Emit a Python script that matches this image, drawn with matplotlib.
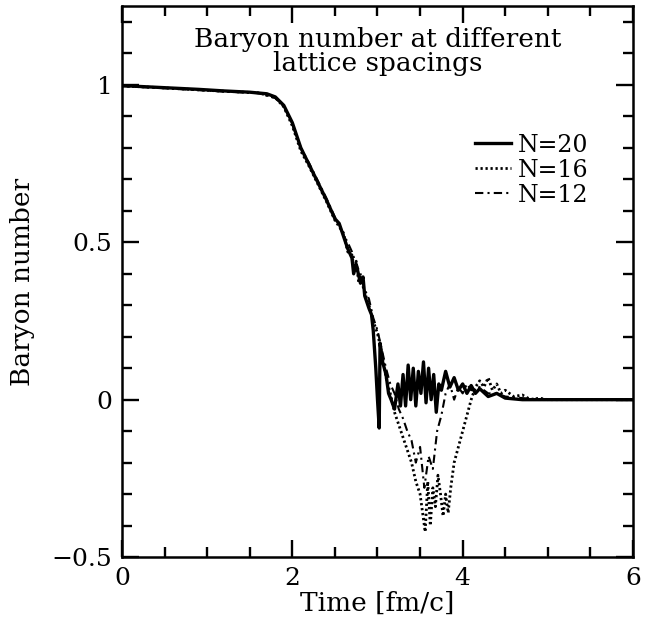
import matplotlib
matplotlib.use("Agg")
import matplotlib.pyplot as plt
from matplotlib.ticker import MultipleLocator

# time [fm/c] and baryon number
t20 = [0.0, 0.3, 0.6, 0.9, 1.2, 1.5, 1.7, 1.8, 1.9, 2.0, 2.05, 2.1, 2.2, 2.3, 2.4,
       2.5, 2.55, 2.6, 2.65, 2.7, 2.72, 2.75, 2.8, 2.83, 2.85, 2.9, 2.93, 2.95, 2.98,
       3.0, 3.02, 3.03, 3.06, 3.1, 3.13, 3.16, 3.2, 3.24, 3.27, 3.3, 3.33, 3.36,
       3.39, 3.42, 3.45, 3.48, 3.51, 3.54, 3.57, 3.6, 3.63, 3.66, 3.69, 3.72, 3.75,
       3.8, 3.85, 3.9, 3.95, 4.0, 4.05, 4.1, 4.15, 4.2, 4.3, 4.4, 4.5, 4.7, 5.0, 6.0]
b20 = [0.998, 0.994, 0.99, 0.986, 0.981, 0.977, 0.972, 0.962, 0.935, 0.88, 0.84, 0.8,
       0.745, 0.69, 0.635, 0.575, 0.56, 0.52, 0.48, 0.45, 0.40, 0.43, 0.37, 0.39,
       0.33, 0.29, 0.27, 0.22, 0.10, 0.0, -0.09, 0.18, 0.12, 0.08, 0.02, 0.0, -0.03,
       0.05, -0.02, 0.08, -0.02, 0.11, 0.0, 0.10, -0.02, 0.09, 0.02, 0.12, -0.01,
       0.10, 0.0, 0.08, -0.04, 0.05, 0.03, 0.09, 0.04, 0.07, 0.03, 0.05, 0.02, 0.045,
       0.02, 0.035, 0.01, 0.02, 0.005, 0.0, 0.0, 0.0]

t16 = [0.0, 0.4, 0.8, 1.2, 1.6, 1.8, 1.9, 2.0, 2.1, 2.2, 2.3, 2.4, 2.5, 2.55, 2.6,
       2.65, 2.7, 2.73, 2.75, 2.78, 2.8, 2.85, 2.9, 2.95, 3.0, 3.05, 3.1, 3.15, 3.2,
       3.25, 3.3, 3.35, 3.4, 3.45, 3.5, 3.53, 3.56, 3.59, 3.62, 3.65, 3.68, 3.71,
       3.74, 3.77, 3.8, 3.83, 3.86, 3.9, 3.95, 4.0, 4.05, 4.1, 4.15, 4.2, 4.25, 4.3,
       4.35, 4.4, 4.45, 4.5, 4.6, 4.7, 4.8, 4.9, 5.0, 6.0]
b16 = [0.997, 0.992, 0.986, 0.98, 0.975, 0.96, 0.93, 0.87, 0.79, 0.74, 0.685, 0.63,
       0.57, 0.55, 0.53, 0.47, 0.46, 0.41, 0.44, 0.37, 0.39, 0.34, 0.30, 0.25, 0.21,
       0.15, 0.07, 0.02, -0.04, -0.08, -0.12, -0.16, -0.2, -0.26, -0.3, -0.36,
       -0.42, -0.26, -0.40, -0.28, -0.34, -0.24, -0.30, -0.37, -0.30, -0.36, -0.28,
       -0.2, -0.15, -0.10, -0.05, 0.0, 0.04, 0.06, 0.04, 0.07, 0.03, 0.05, 0.02,
       0.03, 0.01, 0.015, 0.0, 0.005, 0.0, 0.0]

t12 = [0.0, 0.4, 0.8, 1.2, 1.6, 1.8, 1.9, 2.0, 2.1, 2.2, 2.3, 2.4, 2.5, 2.6, 2.65,
       2.7, 2.75, 2.8, 2.85, 2.9, 2.95, 3.0, 3.05, 3.1, 3.15, 3.2, 3.25, 3.3, 3.35,
       3.4, 3.45, 3.5, 3.55, 3.6, 3.65, 3.7, 3.75, 3.8, 3.85, 3.9, 3.95, 4.0, 4.05,
       4.1, 4.2, 4.3, 4.4, 4.5, 4.7, 5.0, 6.0]
b12 = [0.996, 0.991, 0.985, 0.979, 0.974, 0.958, 0.932, 0.875, 0.8, 0.75, 0.695,
       0.64, 0.58, 0.525, 0.50, 0.47, 0.43, 0.40, 0.35, 0.32, 0.26, 0.22, 0.16, 0.10,
       0.05, 0.02, -0.03, -0.06, -0.1, -0.13, -0.2, -0.15, -0.28, -0.18, -0.22,
       -0.10, -0.05, 0.02, 0.05, 0.0, 0.04, 0.02, 0.05, 0.03, 0.04, 0.02, 0.02, 0.01,
       0.005, 0.0, 0.0]

plt.rcParams['font.family'] = ['DejaVu Serif']
plt.rcParams['font.size'] = 19

fig = plt.figure(figsize=(6.61, 6.28), dpi=100)
ax = fig.add_axes([0.1846, 0.113, 0.7730, 0.877])

ax.plot(t20, b20, color='black', lw=2.4, ls='-', label='N=20')
ax.plot(t16, b16, color='black', lw=2.0, ls=(0, (0.8, 1.0)), label='N=16')
ax.plot(t12, b12, color='black', lw=1.5, ls=(0, (4, 2, 1, 2)), label='N=12')

ax.set_xlim(0, 6)
ax.set_ylim(-0.5, 1.25)
ax.xaxis.set_major_locator(MultipleLocator(2))
ax.xaxis.set_minor_locator(MultipleLocator(0.5))
ax.yaxis.set_major_locator(MultipleLocator(0.5))
ax.yaxis.set_minor_locator(MultipleLocator(0.1))
ax.xaxis.set_major_formatter(plt.FuncFormatter(lambda v, p: '%g' % v))
ax.yaxis.set_major_formatter(plt.FuncFormatter(lambda v, p: ('\u2212' if v < 0 else '') + '%g' % abs(v)))
ax.tick_params(which='both', direction='in', top=True, right=True, width=1.7, labelsize=18)
ax.tick_params(which='major', length=12, pad=7)
ax.tick_params(which='minor', length=7)
for s in ax.spines.values():
    s.set_linewidth(1.8)

ax.set_xlabel('Time [fm/c]', labelpad=1)
ax.set_ylabel('Baryon number', labelpad=12)

ax.text(0.5, 0.962, 'Baryon number at different\nlattice spacings', transform=ax.transAxes,
        ha='center', va='top', linespacing=0.95)

ax.legend(loc='upper left', bbox_to_anchor=(0.668, 0.79), frameon=False, borderpad=0,
          handlelength=1.5, handletextpad=0.3, labelspacing=0.08, fontsize=17)

fig.savefig('out.png', dpi=100)
